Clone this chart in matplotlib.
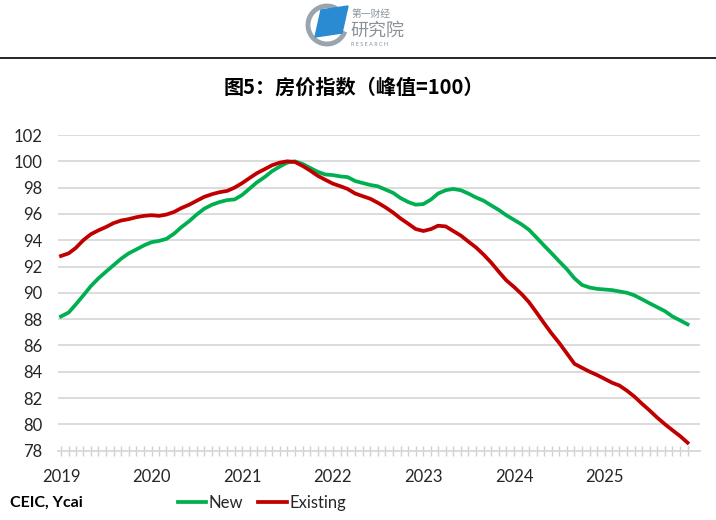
import numpy as np
import pandas as pd
import matplotlib
matplotlib.use('Agg')
import matplotlib.pyplot as plt
from matplotlib.patches import Polygon, Arc

plt.rcParams['font.family'] = ['Lato', 'Noto Sans CJK SC', 'DejaVu Sans']

# monthly index, Jan 2019 - Dec 2025 (peak = 100)
months = pd.date_range('2019-01-01', '2025-12-01', freq='MS')
new_home = [
    88.2, 88.5, 89.1, 89.8, 90.5, 91.1, 91.6, 92.1, 92.6, 93.0, 93.3, 93.6,
    93.85, 93.95, 94.1, 94.5, 95.0, 95.45, 95.95, 96.4, 96.7, 96.9, 97.05, 97.1,
    97.45, 97.95, 98.4, 98.8, 99.25, 99.6, 99.9, 100.0, 99.8, 99.5, 99.2, 99.0,
    98.95, 98.85, 98.8, 98.5, 98.35, 98.2, 98.1, 97.85, 97.6, 97.2, 96.9, 96.7,
    96.75, 97.1, 97.55, 97.8, 97.9, 97.8, 97.55, 97.25, 97.0, 96.65, 96.3, 95.9,
    95.55, 95.2, 94.8, 94.2, 93.6, 93.0, 92.4, 91.8, 91.1, 90.6, 90.4, 90.3,
    90.25, 90.2, 90.1, 90.0, 89.8, 89.5, 89.2, 88.9, 88.6, 88.2, 87.9, 87.6,
]
existing_home = [
    92.8, 93.0, 93.4, 94.0, 94.45, 94.75, 95.0, 95.3, 95.5, 95.6, 95.75, 95.85,
    95.9, 95.85, 95.95, 96.15, 96.45, 96.7, 97.0, 97.3, 97.5, 97.65, 97.75, 98.0,
    98.35, 98.75, 99.1, 99.4, 99.7, 99.9, 100.0, 99.95, 99.65, 99.3, 98.9, 98.6,
    98.3, 98.1, 97.9, 97.55, 97.35, 97.15, 96.85, 96.5, 96.1, 95.65, 95.25, 94.85,
    94.7, 94.85, 95.1, 95.05, 94.7, 94.35, 93.9, 93.45, 92.9, 92.3, 91.6, 90.95,
    90.45, 89.9, 89.3, 88.5, 87.7, 86.9, 86.2, 85.4, 84.6, 84.3, 84.0, 83.75,
    83.45, 83.15, 82.95, 82.55, 82.1, 81.55, 81.05, 80.5, 80.0, 79.55, 79.1, 78.6,
]
years = [2019, 2020, 2021, 2022, 2023, 2024, 2025]
yticks = list(range(78, 103, 2))

W, H = 716, 520
fig = plt.figure(figsize=(W / 100, H / 100), dpi=100)

# header: logo, rule, title (drawn in pixel coords)
hd = fig.add_axes([0, 0, 1, 1], zorder=0)
hd.set_xlim(0, W)
hd.set_ylim(H, 0)
hd.axis('off')
hd.add_patch(Arc((327, 25), 38, 38, theta1=20, theta2=300, color='#9aa4ad', lw=3.5))
hd.add_patch(Polygon([(321, 10), (348, 6), (342, 33), (315, 37)], closed=True,
                     color='#2a8bd2'))
hd.text(352, 14, '第一财经', fontsize=7, color='#8a929a', va='center',
        family='Noto Sans CJK SC')
hd.text(350, 31, '研究院', fontsize=13, color='#8a929a', va='center',
        family='Noto Sans CJK SC')
hd.text(351, 44, 'R E S E A R C H', fontsize=4, color='#8a929a', va='center')
hd.plot([0, W], [58, 58], color='black', lw=1.2)
hd.text(354, 87, '图5：房价指数（峰值=100）', fontsize=14.5, fontweight='bold',
        ha='center', va='center', family='Noto Sans CJK SC')
hd.text(10, 503, 'CEIC, Ycai', fontsize=11.5, fontweight='bold', va='center')

ax = fig.add_axes([58 / W, 1 - 450.6 / H, 642 / W, (450.6 - 135) / H], zorder=1)
ax.patch.set_alpha(0)
ln1, = ax.plot(months, new_home, color='#00b050', lw=2.7, label='New')
ln2, = ax.plot(months, existing_home, color='#c00000', lw=2.7, label='Existing')

ax.set_ylim(78, 102)
ax.set_yticks(yticks)
ax.set_xlim(pd.Timestamp('2018-12-20'), pd.Timestamp('2026-01-20'))
ax.set_xticks([pd.Timestamp(f'{y}-01-01') for y in years])
ax.set_xticklabels([str(y) for y in years])
ax.set_xticks(months, minor=True)
ax.grid(axis='y', color='#d9d9d9', lw=1.3)
ax.set_axisbelow(True)
for s in ['top', 'right', 'left']:
    ax.spines[s].set_visible(False)
ax.spines['bottom'].set_color('#d9d9d9')
ax.spines['bottom'].set_linewidth(1.3)
ax.tick_params(axis='y', length=0, pad=11, labelsize=12, labelcolor='#262626')
ax.tick_params(axis='x', which='both', direction='inout', length=7,
               color='#d0d0d0', width=1)
ax.tick_params(axis='x', which='major', pad=10, labelsize=12, labelcolor='#262626')

fig.legend([ln1, ln2], ['New', 'Existing'], loc='center',
           bbox_to_anchor=(262 / W, 1 - 503 / H), ncol=2, frameon=False,
           fontsize=12, handlelength=1.7, handletextpad=0.15, columnspacing=0.9,
           labelcolor='#262626')

fig.savefig('out.png', dpi=100)
